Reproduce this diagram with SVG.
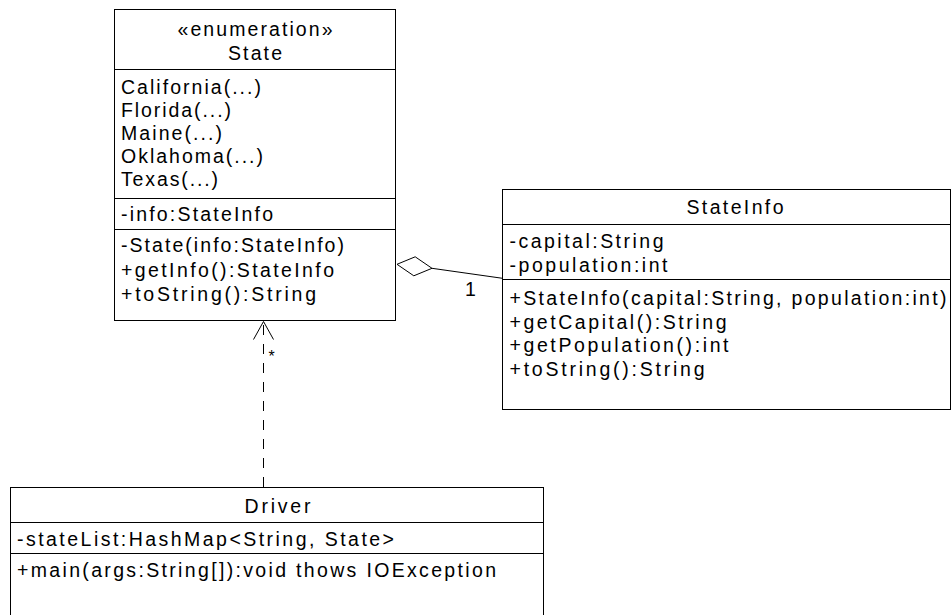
<svg xmlns="http://www.w3.org/2000/svg" width="952" height="615" viewBox="0 0 952 615">
<style>
.box{fill:#fff;stroke:#000;stroke-width:1}
.div{stroke:#000;stroke-width:1}
.t{font-family:"Liberation Sans",Arial,sans-serif;font-size:19.5px;fill:#000}
.c{text-anchor:middle}
.lbl{font-family:"Liberation Sans",Arial,sans-serif;font-size:16px;fill:#000}
.conn{fill:none;stroke:#000;stroke-width:1}
</style>
<rect width="952" height="615" fill="#fff"/>
<g id="state">
<rect class="box" x="114.5" y="9.5" width="281" height="311"/>
<line class="div" x1="114.5" y1="69.5" x2="395.5" y2="69.5"/>
<line class="div" x1="114.5" y1="198.5" x2="395.5" y2="198.5"/>
<line class="div" x1="114.5" y1="229.5" x2="395.5" y2="229.5"/>
<text class="t c" x="255" y="36" textLength="155" lengthAdjust="spacing">«enumeration»</text>
<text class="t c" x="255" y="60" textLength="54" lengthAdjust="spacing">State</text>
<text class="t" x="121" y="94" textLength="140" lengthAdjust="spacing">California(...)</text>
<text class="t" x="121" y="117" textLength="110" lengthAdjust="spacing">Florida(...)</text>
<text class="t" x="121" y="140" textLength="101" lengthAdjust="spacing">Maine(...)</text>
<text class="t" x="121" y="163" textLength="142" lengthAdjust="spacing">Oklahoma(...)</text>
<text class="t" x="121" y="186" textLength="97" lengthAdjust="spacing">Texas(...)</text>
<text class="t" x="121" y="221" textLength="152" lengthAdjust="spacing">-info:StateInfo</text>
<text class="t" x="121" y="252" textLength="223" lengthAdjust="spacing">-State(info:StateInfo)</text>
<text class="t" x="121" y="276.5" textLength="213" lengthAdjust="spacing">+getInfo():StateInfo</text>
<text class="t" x="121" y="301" textLength="195" lengthAdjust="spacing">+toString():String</text>
</g>
<g id="stateinfo">
<rect class="box" x="502.5" y="189.5" width="448" height="220"/>
<line class="div" x1="502.5" y1="224.5" x2="950.5" y2="224.5"/>
<line class="div" x1="502.5" y1="279.5" x2="950.5" y2="279.5"/>
<text class="t c" x="735" y="214" textLength="97" lengthAdjust="spacing">StateInfo</text>
<text class="t" x="509.5" y="248" textLength="154" lengthAdjust="spacing">-capital:String</text>
<text class="t" x="509.5" y="271.5" textLength="158" lengthAdjust="spacing">-population:int</text>
<text class="t" x="509.5" y="305" textLength="437" lengthAdjust="spacing">+StateInfo(capital:String, population:int)</text>
<text class="t" x="509.5" y="328.5" textLength="217" lengthAdjust="spacing">+getCapital():String</text>
<text class="t" x="509.5" y="352" textLength="219" lengthAdjust="spacing">+getPopulation():int</text>
<text class="t" x="509.5" y="375.5" textLength="195" lengthAdjust="spacing">+toString():String</text>
</g>
<g id="driver">
<rect class="box" x="10.5" y="487.5" width="533" height="140"/>
<line class="div" x1="10.5" y1="522.5" x2="543.5" y2="522.5"/>
<line class="div" x1="10.5" y1="553.5" x2="543.5" y2="553.5"/>
<text class="t c" x="277.5" y="513" textLength="66" lengthAdjust="spacing">Driver</text>
<text class="t" x="17" y="545.5" textLength="377" lengthAdjust="spacing">-stateList:HashMap&lt;String, State&gt;</text>
<text class="t" x="17" y="577" textLength="479" lengthAdjust="spacing">+main(args:String[]):void thows IOException</text>
</g>
<g id="connectors">
<polygon class="conn" points="397,264.3 415.2,256.8 432,268.3 413.8,275.8" style="fill:#fff"/>
<line class="conn" x1="432" y1="268.3" x2="502.5" y2="278.3"/>
<text class="t" x="465" y="296">1</text>
<line class="conn" x1="263.5" y1="487" x2="263.5" y2="322" stroke-dasharray="10,9"/>
<polyline class="conn" points="253.5,339.5 263.5,321.5 273.5,339.5"/>
<text class="lbl" x="268.5" y="362">*</text>
</g>
</svg>
